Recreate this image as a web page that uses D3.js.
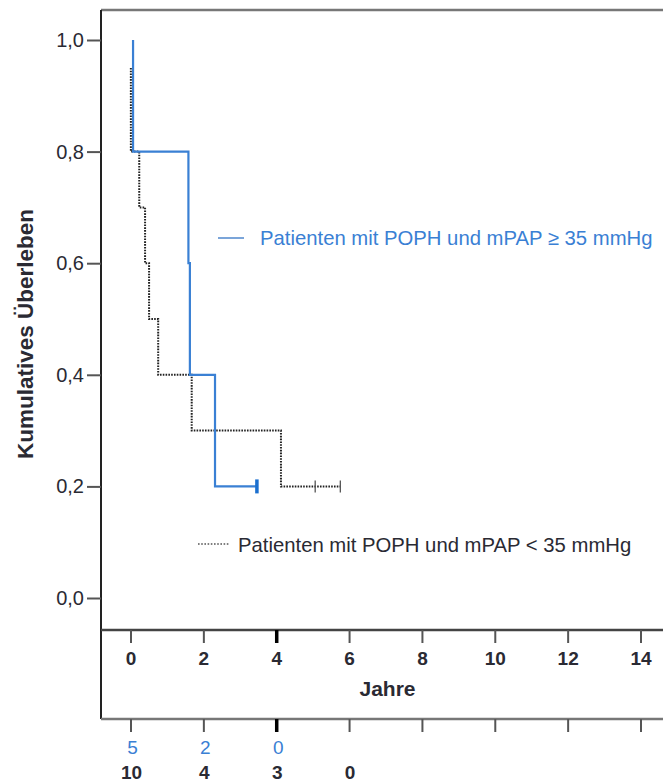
<!DOCTYPE html>
<html>
<head>
<meta charset="utf-8">
<script src="https://cdn.jsdelivr.net/npm/d3@7"></script>
<style>
  html, body { margin: 0; padding: 0; background: #fff; }
  svg { display: block; font-family: "Liberation Sans", Arial, sans-serif; }
</style>
</head>
<body>
<svg id="chart" width="663" height="784"></svg>
<script>
// Kaplan-Meier steps: time (years) and cumulative survival
const highTimes = [0.07, 0.07, 1.59, 1.63, 2.32, 3.47];
const highSurv  = [1.0, 0.8, 0.6, 0.4, 0.2, 0.2];
const highCensor = [3.47];

const lowTimes = [0.01, 0.01, 0.24, 0.40, 0.51, 0.76, 1.68, 4.13, 5.76];
const lowSurv  = [0.95, 0.8, 0.7, 0.6, 0.5, 0.4, 0.3, 0.2, 0.2];
const lowCensor = [5.07, 5.76];

const xTicks = [0, 2, 4, 6, 8, 10, 12, 14];
const yTicks = [0, 0.2, 0.4, 0.6, 0.8, 1.0];

// numbers at risk
const riskTimes = [0, 2, 4, 6];
const riskHigh = ["5", "2", "0"];
const riskLow  = ["10", "4", "3", "0"];

const legendHigh = "Patienten mit POPH und mPAP \u2265 35 mmHg";
const legendLow  = "Patienten mit POPH und mPAP < 35 mmHg";

const BLUE = "#3a80d4";
const DARK = "#2a2a33";

const svg = d3.select("#chart");
const x = d3.scaleLinear().domain([0, 14]).range([130.5, 640.5]);
const y = d3.scaleLinear().domain([0, 1]).range([598, 40]);

const frameLeft = 101, frameTop = 10, axisY = 630, boxY = 719, frameRight = 663;

// frame
svg.append("line").attr("x1", frameLeft).attr("x2", frameRight).attr("y1", frameTop).attr("y2", frameTop)
  .attr("stroke", "#777").attr("stroke-width", 2.5);
svg.append("line").attr("x1", frameLeft).attr("x2", frameLeft).attr("y1", frameTop).attr("y2", boxY)
  .attr("stroke", "#222").attr("stroke-width", 2);
svg.append("line").attr("x1", frameLeft).attr("x2", frameRight).attr("y1", axisY).attr("y2", axisY)
  .attr("stroke", "#444").attr("stroke-width", 2.5);
svg.append("line").attr("x1", frameLeft).attr("x2", frameRight).attr("y1", boxY).attr("y2", boxY)
  .attr("stroke", "#777").attr("stroke-width", 2.5);

// y axis
const yAxis = d3.axisLeft(y).tickValues(yTicks).tickSize(14).tickPadding(3)
  .tickFormat(d => d3.format(".1f")(d).replace(".", ","));
const gy = svg.append("g").attr("transform", `translate(${frameLeft},0)`).call(yAxis);
gy.select(".domain").remove();
gy.selectAll(".tick line").attr("stroke", "#555").attr("stroke-width", 2);
gy.selectAll(".tick text").attr("font-size", 20).attr("fill", DARK)
  .attr("font-family", "Liberation Sans, Arial, sans-serif");

// x axis
const xAxis = d3.axisBottom(x).tickValues(xTicks).tickSize(13).tickPadding(9);
const gx = svg.append("g").attr("transform", `translate(0,${axisY})`).call(xAxis);
gx.select(".domain").remove();
gx.selectAll(".tick line").attr("stroke", d => d === 4 ? "#000" : "#555")
  .attr("stroke-width", d => d === 4 ? 3.5 : 2);
gx.selectAll(".tick text").attr("font-size", 19).attr("font-weight", "bold").attr("fill", DARK)
  .attr("font-family", "Liberation Sans, Arial, sans-serif");

// ticks under the risk box
const gx2 = svg.append("g").attr("transform", `translate(0,${boxY})`)
  .call(d3.axisBottom(x).tickValues(xTicks).tickSize(13).tickFormat(""));
gx2.select(".domain").remove();
gx2.selectAll(".tick line").attr("stroke", d => d === 4 ? "#000" : "#555")
  .attr("stroke-width", d => d === 4 ? 3.5 : 2);

// axis titles
svg.append("text").attr("x", (x(0) + x(14)) / 2 + 2).attr("y", 696)
  .attr("text-anchor", "middle").attr("font-size", 21).attr("font-weight", "bold")
  .attr("fill", DARK).text("Jahre");
svg.append("text").attr("transform", "translate(33,334) rotate(-90)")
  .attr("text-anchor", "middle").attr("font-size", 22.5).attr("font-weight", "bold")
  .attr("fill", DARK).text("Kumulatives \u00dcberleben");

// survival curves
const line = d3.line().curve(d3.curveStepAfter).x(d => x(d[0])).y(d => y(d[1]));
const lowPts = lowTimes.map((t, i) => [t, lowSurv[i]]);
const highPts = highTimes.map((t, i) => [t, highSurv[i]]);

svg.append("path").datum(lowPts).attr("d", line).attr("fill", "none")
  .attr("stroke", "#222").attr("stroke-width", 2).attr("stroke-dasharray", "1.6,1.2");
lowCensor.forEach(t => {
  svg.append("line").attr("x1", x(t)).attr("x2", x(t))
    .attr("y1", y(0.2) - 6).attr("y2", y(0.2) + 6)
    .attr("stroke", "#555").attr("stroke-width", 1.3);
});

svg.append("path").datum(highPts).attr("d", line).attr("fill", "none")
  .attr("stroke", BLUE).attr("stroke-width", 2.2);
highCensor.forEach(t => {
  svg.append("line").attr("x1", x(t)).attr("x2", x(t))
    .attr("y1", y(0.2) - 7).attr("y2", y(0.2) + 7)
    .attr("stroke", "#1a6fcf").attr("stroke-width", 3.5);
});

// legends
svg.append("line").attr("x1", 218).attr("x2", 244).attr("y1", 238).attr("y2", 238)
  .attr("stroke", "#5a8fd0").attr("stroke-width", 1.6);
svg.append("text").attr("x", 260).attr("y", 245).attr("font-size", 20.3)
  .attr("fill", BLUE).text(legendHigh);

svg.append("line").attr("x1", 198).attr("x2", 229).attr("y1", 544).attr("y2", 544)
  .attr("stroke", "#555").attr("stroke-width", 1.5).attr("stroke-dasharray", "1.6,1.6");
svg.append("text").attr("x", 238).attr("y", 552).attr("font-size", 20.3)
  .attr("fill", DARK).text(legendLow);

// numbers at risk
svg.selectAll(".riskHigh").data(riskHigh).enter().append("text")
  .attr("x", (d, i) => x(riskTimes[i]) + 2).attr("y", 754)
  .attr("text-anchor", "middle").attr("font-size", 19).attr("fill", BLUE).text(d => d);
svg.selectAll(".riskLow").data(riskLow).enter().append("text")
  .attr("x", (d, i) => x(riskTimes[i]) + 1).attr("y", 779)
  .attr("text-anchor", "middle").attr("font-size", 19).attr("font-weight", "bold")
  .attr("fill", DARK).text(d => d);
</script>
</body>
</html>
